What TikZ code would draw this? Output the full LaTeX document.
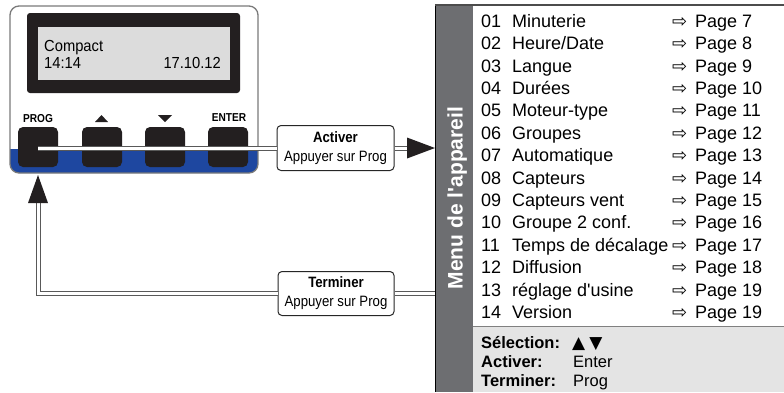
\documentclass[tikz,border=0pt]{standalone}
\usepackage{fontspec}
\setmainfont{Liberation Sans}
\newfontfamily\condf[FakeStretch=0.88]{Liberation Sans}
\newfontfamily\lcdf[FakeStretch=0.92]{Liberation Sans}
\newfontfamily\symf{DejaVu Sans}
\usetikzlibrary{calc}
\definecolor{devblue}{HTML}{1E47A0}
\definecolor{btnblack}{HTML}{231F20}
\definecolor{lcdgrey}{HTML}{DCDCDC}
\definecolor{bargrey}{HTML}{6D6E71}
\definecolor{botgrey}{HTML}{E4E4E4}
\definecolor{framegrey}{HTML}{7A7A7A}
\tikzset{
 btn/.style={fill=btnblack, rounded corners=5pt, minimum width=40pt, minimum height=40pt, inner sep=0pt, outer sep=0pt},
 keylbl/.style={font=\condf\fontsize{11.5}{11.5}\selectfont\bfseries, anchor=base, inner sep=0pt},
 lcdtxt/.style={font=\lcdf\fontsize{16}{16}\selectfont, inner sep=0pt},
 cmdbox/.style={draw=black!85, line width=1pt, rounded corners=4pt, fill=white, align=center, font=\condf\fontsize{15}{19}\selectfont, minimum width=117pt, minimum height=45pt, inner sep=0pt},
 dbl/.style={draw=gray!70!black, double=white, double distance=3pt, line width=1pt},
 itm/.style={anchor=base west, inner sep=0pt, font=\fontsize{18}{18}\selectfont},
 itmarr/.style={anchor=west, inner sep=0pt, font=\symf\fontsize{18}{18}\selectfont},
 bot/.style={anchor=base west, inner sep=0pt, font=\fontsize{16.5}{16.5}\selectfont},
 tipfill/.style={fill=btnblack},
}
\newcommand\mitem[4]{%
 \node[itm] (num#1) at (481,{27.3+22.4*(#1-1)}) {#2};
 \node[itm] (name#1) at (512,{27.3+22.4*(#1-1)}) {#3};
 \node[itmarr] (arr#1) at (672,{22.2+22.4*(#1-1)}) {⇨};
 \node[itm] (pg#1) at (695,{27.3+22.4*(#1-1)}) {Page #4};
}
\begin{document}
\begin{tikzpicture}[x=1pt,y=-1pt]
\useasboundingbox (0,0) rectangle (784,392);
% device
\node[fill=white, rounded corners=9pt, minimum width=248pt, minimum height=167pt, inner sep=0pt, outer sep=0pt] (dev) at (134,89.5) {};
\begin{scope}
 \clip[rounded corners=9pt] (dev.north west) rectangle (dev.south east);
 \fill[devblue] (10,149) rectangle (258,174);
\end{scope}
\draw[framegrey, line width=1.3pt, rounded corners=9pt] (dev.north west) rectangle (dev.south east);
\node[fill=btnblack, rounded corners=3pt, minimum width=213pt, minimum height=80pt, inner sep=0pt] (disp) at (133.5,53) {};
\node[fill=lcdgrey, minimum width=192pt, minimum height=53pt, inner sep=0pt] (lcd) at (134,53.5) {};
\node[lcdtxt, anchor=base west] (lcd1) at (44,51) {Compact};
\node[lcdtxt, anchor=base west] (lcd2) at (44,68) {14:14};
\node[lcdtxt, anchor=base east] (lcd3) at (221,68) {17.10.12};
% keys
\node[btn] (bprog) at (38,147) {};
\node[btn] (bup) at (102,147) {};
\node[btn] (bdown) at (165,147) {};
\node[btn] (benter) at (228,147) {};
\node[keylbl] (lprog) at (38,122) {PROG};
\node[keylbl] (lenter) at (229,121.5) {ENTER};
\fill[btnblack] (95,122) -- (108,122) -- (101.5,115) -- cycle;
\fill[btnblack] (158,115) -- (172,115) -- (165,122) -- cycle;
% menu panel
\node[fill=bargrey, minimum width=38pt, minimum height=387pt, inner sep=0pt, outer sep=0pt] (bar) at (454,198.5) {};
\fill[botgrey] (473,326) rectangle (784,392);
\draw[gray, line width=1pt] (473,326) -- (784,326);
\draw[black, line width=1pt] (bar.north west) -- (bar.south west);
\draw[gray!60!black, line width=1.3pt] (bar.north west) -- (784,5);
\node[rotate=90, anchor=base, text=white, font=\bfseries\fontsize{21}{21}\selectfont, inner sep=0pt] (mtitle) at (462.5,198) {Menu de l\textquotesingle appareil};
\mitem{1}{01}{Minuterie}{7}
\mitem{2}{02}{Heure/Date}{8}
\mitem{3}{03}{Langue}{9}
\mitem{4}{04}{Durées}{10}
\mitem{5}{05}{Moteur-type}{11}
\mitem{6}{06}{Groupes}{12}
\mitem{7}{07}{Automatique}{13}
\mitem{8}{08}{Capteurs}{14}
\mitem{9}{09}{Capteurs vent}{15}
\mitem{10}{10}{Groupe 2 conf.}{16}
\mitem{11}{11}{Temps de décalage}{17}
\mitem{12}{12}{Diffusion}{18}
\mitem{13}{13}{réglage d\textquotesingle usine}{19}
\mitem{14}{14}{Version}{19}
\node[bot, font=\bfseries\fontsize{16.5}{16.5}\selectfont] (selk) at (481,348) {Sélection:};
\node[bot, font=\bfseries\fontsize{16.5}{16.5}\selectfont] (actk) at (481,367) {Activer:};
\node[bot, font=\bfseries\fontsize{16.5}{16.5}\selectfont] (termk) at (481,386) {Terminer:};
\node[bot, font=\symf\fontsize{17}{17}\selectfont] (selv) at (572,348) {▲\hspace{4pt}▼};
\node[bot] (actv) at (573,367) {Enter};
\node[bot] (termv) at (573,386) {Prog};
% command boxes
\node[cmdbox] (act) at (335.5,148) {{\bfseries Activer}\\Appuyer sur Prog};
\node[cmdbox, minimum width=116pt, minimum height=44pt] (term) at (336,293.5) {{\bfseries Terminer}\\Appuyer sur Prog};
% connectors
\draw[dbl] (bprog.center |- act.west) -- (act.west);
\draw[dbl] (act.east) -- ($(bar.west |- act.east)+(-27,0)$);
\fill[tipfill] (bar.west |- act.east) -- ++(-28,-10.5) -- ++(0,21) -- cycle;
\draw[dbl] (bar.west |- term.east) -- (term.east);
\draw[dbl] (term.west) -| ($(bprog.south)+(0,36)$);
\fill[tipfill] ($(bprog.south)+(0,8)$) -- ++(-10,28) -- ++(20,0) -- cycle;
\end{tikzpicture}
\end{document}
